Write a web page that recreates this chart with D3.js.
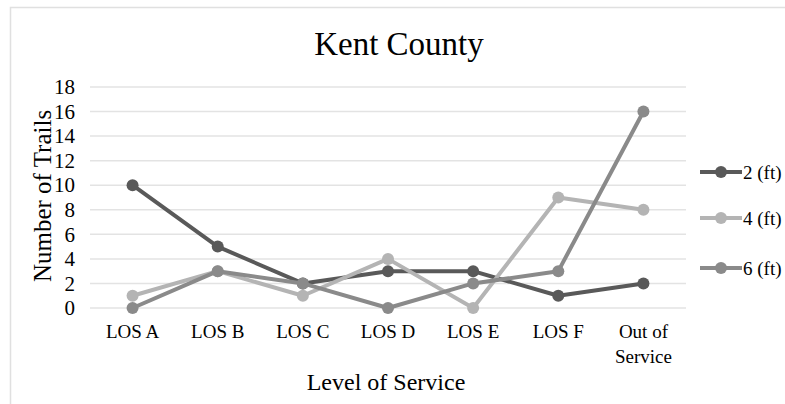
<!DOCTYPE html>
<html>
<head>
<meta charset="utf-8">
<script src="https://cdn.jsdelivr.net/npm/d3@7"></script>
<style>
  body { margin: 0; background: #fff; }
  svg { display: block; font-family: "Liberation Serif", "Times New Roman", serif; }
</style>
</head>
<body>
<svg id="chart" width="785" height="404"></svg>
<script>
// data
var categories = ["LOS A", "LOS B", "LOS C", "LOS D", "LOS E", "LOS F", "Out of Service"];
var seriesNames = ["2 (ft)", "4 (ft)", "6 (ft)"];
var ft2 = [10, 5, 2, 3, 3, 1, 2];
var ft4 = [1, 3, 1, 4, 0, 9, 8];
var ft6 = [0, 3, 2, 0, 2, 3, 16];
var yTicks = [0, 2, 4, 6, 8, 10, 12, 14, 16, 18];

var colors = ["#595959", "#b4b4b4", "#8a8a8a"];
var series = [ft2, ft4, ft6].map(function(vals, i) {
  return { name: seriesNames[i], values: vals, color: colors[i] };
});

var svg = d3.select("#chart");

// outer chart border (runs off the right/bottom edge like the screenshot)
svg.append("rect")
    .attr("x", 10.5).attr("y", 7.5)
    .attr("width", 800).attr("height", 420)
    .attr("fill", "none")
    .attr("stroke", "#e0e0e0")
    .attr("stroke-width", 1.5);

var margin = {top: 87, left: 90},
    width = 596,
    height = 221;

var x = d3.scaleBand().domain(categories).range([0, width]);
var y = d3.scaleLinear().domain([0, 18]).range([height, 0]);

var g = svg.append("g")
    .attr("transform", "translate(" + margin.left + "," + margin.top + ")");

// gridlines
g.append("g")
    .selectAll("line")
    .data(yTicks)
    .enter().append("line")
      .attr("x1", 0).attr("x2", width)
      .attr("y1", function(d) { return y(d); })
      .attr("y2", function(d) { return y(d); })
      .attr("stroke", "#e3e3e3")
      .attr("stroke-width", 1.5);

// y axis labels
var yAxis = g.append("g")
    .call(d3.axisLeft(y).tickValues(yTicks).tickSize(0).tickPadding(15));
yAxis.select(".domain").remove();
yAxis.selectAll("text")
    .style("font-family", "Liberation Serif, serif")
    .style("font-size", "21px")
    .attr("fill", "#000");

// x axis labels
var xAxis = g.append("g")
    .attr("transform", "translate(0," + height + ")")
    .call(d3.axisBottom(x).tickSize(0).tickPadding(17));
xAxis.select(".domain").remove();
xAxis.selectAll("text")
    .style("font-family", "Liberation Serif, serif")
    .style("font-size", "19px")
    .attr("fill", "#000")
    .each(function(d) {
      var t = d3.select(this);
      if (d === "Out of Service") {
        t.text(null);
        t.append("tspan").attr("x", 0).attr("dy", "0.71em").text("Out of");
        t.append("tspan").attr("x", 0).attr("dy", "1.3em").text("Service");
      }
    });

// lines and markers
var line = d3.line()
    .x(function(d, i) { return x(categories[i]) + x.bandwidth() / 2; })
    .y(function(d) { return y(d); });

series.forEach(function(s) {
  g.append("path")
      .datum(s.values)
      .attr("fill", "none")
      .attr("stroke", s.color)
      .attr("stroke-width", 4)
      .attr("stroke-linejoin", "round")
      .attr("d", line);
  g.selectAll(null)
      .data(s.values)
      .enter().append("circle")
        .attr("cx", function(d, i) { return x(categories[i]) + x.bandwidth() / 2; })
        .attr("cy", function(d) { return y(d); })
        .attr("r", 6)
        .attr("fill", s.color);
});

// title
svg.append("text")
    .attr("x", 399).attr("y", 55)
    .attr("text-anchor", "middle")
    .style("font-size", "33px")
    .attr("fill", "#000")
    .text("Kent County");

// axis titles
svg.append("text")
    .attr("transform", "translate(51,196) rotate(-90)")
    .attr("text-anchor", "middle")
    .style("font-size", "25px")
    .attr("fill", "#000")
    .text("Number of Trails");

svg.append("text")
    .attr("x", 386).attr("y", 390)
    .attr("text-anchor", "middle")
    .style("font-size", "24px")
    .attr("fill", "#000")
    .text("Level of Service");

// legend
var legend = svg.append("g")
    .selectAll("g")
    .data(series)
    .enter().append("g")
      .attr("transform", function(d, i) { return "translate(700," + [172, 218, 268][i] + ")"; });
legend.append("line")
    .attr("x1", 0).attr("x2", 42)
    .attr("stroke", function(d) { return d.color; })
    .attr("stroke-width", 4);
legend.append("circle")
    .attr("cx", 21).attr("r", 6)
    .attr("fill", function(d) { return d.color; });
legend.append("text")
    .attr("x", 43).attr("dy", "0.35em")
    .style("font-size", "19px")
    .attr("fill", "#000")
    .text(function(d) { return d.name; });
</script>
</body>
</html>
